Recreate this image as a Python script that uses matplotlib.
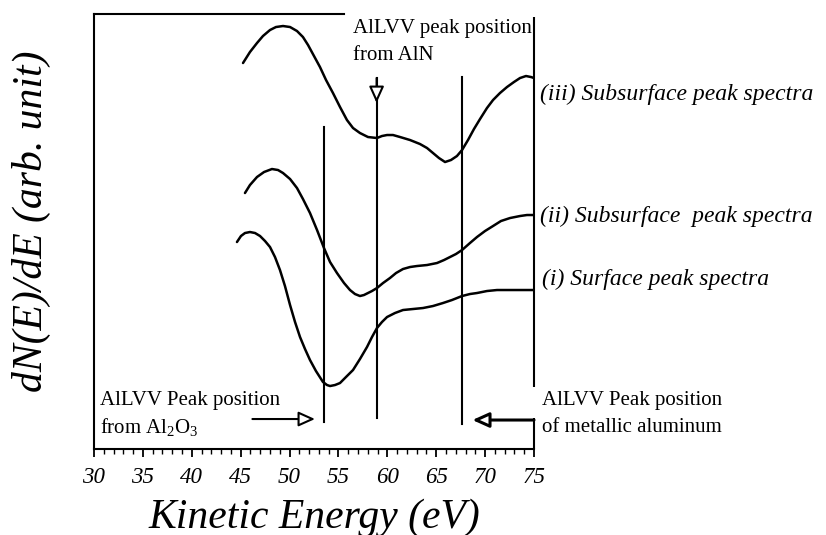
import numpy as np
import matplotlib
matplotlib.use("Agg")
import matplotlib.pyplot as plt

plt.rcParams["font.family"] = "Liberation Serif"
plt.rcParams["mathtext.fontset"] = "custom"
plt.rcParams["mathtext.rm"] = "Liberation Serif"
plt.rcParams["mathtext.it"] = "Liberation Serif:italic"

# AES AlLVV spectra, kinetic energy (eV) vs dN(E)/dE (arb. unit, offset)
e_iii = [45.24, 45.95, 46.67, 47.28, 48.00, 48.61, 49.33, 50.05, 50.76, 51.37,
         51.89, 52.50, 53.11, 53.73, 54.44, 55.16, 55.87, 56.49, 57.20, 58.02,
         58.94, 59.45, 59.97, 60.58, 61.30, 62.32, 63.34, 64.06, 64.67, 65.28,
         65.90, 66.51, 67.12, 67.64, 68.25, 68.86, 69.48, 70.19, 70.81, 71.52,
         72.24, 72.95, 73.57, 74.18, 74.69, 75.00]
s_iii = [386, 397, 406, 413, 419, 422, 423, 422, 418, 412,
         404, 393, 382, 369, 356, 342, 329, 321, 316, 312,
         311, 313, 314, 314, 312, 309, 305, 301, 296, 291,
         287, 289, 293, 299, 309, 320, 330, 341, 349, 356,
         362, 367, 371, 373, 372, 371]

e_ii = [45.44, 45.95, 46.67, 47.39, 48.20, 48.82, 49.33, 50.05, 50.76, 51.37,
        52.09, 52.81, 53.52, 54.14, 54.85, 55.57, 56.18, 56.69, 57.20, 57.61,
        58.02, 58.43, 58.94, 59.56, 60.27, 60.89, 61.60, 62.32, 63.03, 64.06,
        65.08, 65.80, 66.41, 67.02, 67.64, 68.45, 69.17, 69.99, 70.81, 71.62,
        72.55, 73.57, 74.28, 75.00]
s_ii = [256, 264, 272, 277, 280, 279, 276, 270, 261, 250,
        236, 219, 201, 187, 176, 166, 159, 155, 153, 154,
        156, 158, 161, 166, 171, 176, 180, 182, 183, 184,
        186, 189, 192, 195, 199, 206, 212, 218, 223, 228,
        231, 233, 234, 234]

e_i = [44.62, 45.03, 45.44, 45.95, 46.47, 46.98, 47.49, 48.00, 48.51, 49.02,
       49.53, 50.05, 50.56, 51.07, 51.58, 52.09, 52.70, 53.42, 53.83, 54.14,
       54.65, 55.16, 55.77, 56.49, 57.20, 57.92, 58.43, 58.94, 59.45, 59.97,
       60.78, 61.60, 62.62, 63.65, 64.67, 65.69, 66.61, 67.64, 68.45, 69.17,
       70.19, 71.22, 73.06, 75.00]
s_i = [207, 213, 216, 217, 216, 213, 208, 202, 192, 179,
       163, 144, 127, 112, 100, 89, 78, 67, 64, 63,
       64, 66, 72, 79, 90, 102, 112, 121, 127, 132,
       136, 139, 140, 141, 143, 146, 149, 153, 155, 156,
       158, 159, 159, 159]

curve_labels = ["(iii) Subsurface peak spectra",
                "(ii) Subsurface  peak spectra",
                "(i) Surface peak spectra"]

# reference peak positions (eV): Al2O3, AlN, metallic Al
peak_pos = [53.5, 58.9, 67.6]
peak_top = [322, 371, 372]
peak_bottom = [27, 31, 25]

fig = plt.figure(figsize=(8.26, 5.35), dpi=100)
ax = fig.add_axes([0.1138, 0.1607, 0.5327, 0.8131])
ax.set_xlim(30, 75)
ax.set_ylim(0, 435)

lw = 1.8
for e, s in [(e_iii, s_iii), (e_ii, s_ii), (e_i, s_i)]:
    ax.plot(e, s, color="k", lw=lw, solid_joinstyle="round",
            solid_capstyle="round")

for xp, y0, y1 in zip(peak_pos, peak_bottom, peak_top):
    ax.plot([xp, xp], [y0, y1], color="k", lw=1.5, zorder=3)

# labels at the right-hand end of each curve
lab_y = [349, 227, 164]
lab_x = [75.6, 75.6, 75.8]
for s, xx, yy in zip(curve_labels, lab_x, lab_y):
    ax.text(xx, yy, s, fontsize=17, style="italic", va="baseline",
            ha="left", clip_on=False)

# arrows marking reference peak positions
ap = dict(arrowstyle="-|>,head_length=1.0,head_width=0.45", fc="white",
          ec="k", lw=1.5, mutation_scale=10, shrinkA=0, shrinkB=0)
ax.annotate("", xy=(52.6, 30), xytext=(46.2, 30), arrowprops=ap)
ax.annotate("", xy=(58.9, 346), xytext=(58.9, 371), arrowprops=ap)
ap2 = dict(ap, lw=2.2)
ax.annotate("", xy=(68.7, 29), xytext=(75.0, 29), arrowprops=ap2)

fs = 15
ax.text(56.5, 416, "AlLVV peak position", fontsize=fs, va="baseline", clip_on=False)
ax.text(56.5, 389, "from AlN", fontsize=fs, va="baseline")
ax.text(30.6, 44, "AlLVV Peak position", fontsize=fs, va="baseline")
ax.text(30.6, 16, r"from Al$_2$O$_3$", fontsize=fs, va="baseline")
ax.text(75.8, 44, "AlLVV Peak position", fontsize=fs, va="baseline", clip_on=False)
ax.text(75.8, 17, "of metallic aluminum", fontsize=fs, va="baseline", clip_on=False)

# frame: partial top edge, right edge broken near the lower arrow
for side in ["left", "bottom", "top"]:
    ax.spines[side].set_linewidth(1.5)
ax.spines["top"].set_bounds(30, 55.6)
ax.spines["right"].set_visible(False)
ax.plot([1, 1], [0.1425, 0.993], transform=ax.transAxes, color="k",
        lw=1.5, clip_on=False, solid_capstyle="butt")
ax.plot([1, 1], [0, 0.0713], transform=ax.transAxes, color="k",
        lw=1.5, clip_on=False, solid_capstyle="butt")

ax.set_yticks([])
ax.set_xticks(np.arange(30, 76, 5))
ax.set_xticks(np.arange(30, 76, 1), minor=True)
ax.tick_params(axis="x", which="major", direction="out", length=6, width=1.3,
               labelsize=16.5, pad=7)
ax.tick_params(axis="x", which="minor", direction="out", length=3.5, width=1.0)
for t in ax.get_xticklabels():
    t.set_fontstyle("italic")

fig.text(0.380, 0.014, "Kinetic Energy (eV)", fontsize=30, style="italic",
         ha="center", va="baseline")
fig.text(0.038, 0.587, "dN(E)/dE (arb. unit)", fontsize=30, style="italic",
         ha="center", va="center", rotation=90)

fig.savefig("out.png", dpi=100)
